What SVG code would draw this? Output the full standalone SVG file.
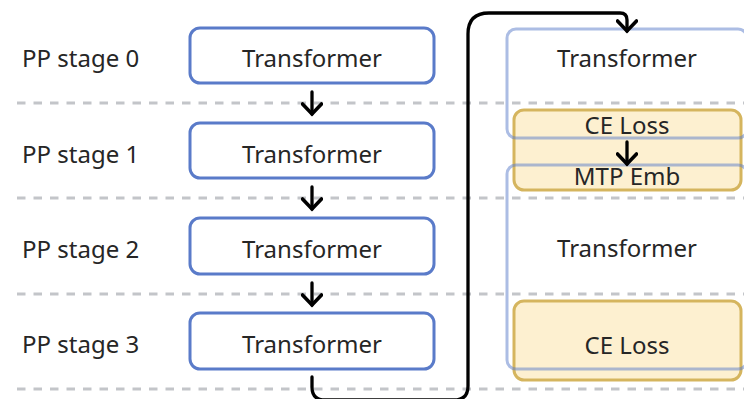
<svg xmlns="http://www.w3.org/2000/svg" width="744" height="399" viewBox="0 0 744 399">
<defs>
<style>
.lbl{font-family:"Noto Sans","DejaVu Sans",sans-serif;font-size:24px;fill:#262626}
.mid{text-anchor:middle}
.dash{stroke:#c3c5c9;stroke-width:3;stroke-dasharray:8.5 8;fill:none}
.tf{fill:#fff;stroke:#5a7bc9;stroke-width:3}
.ltf{fill:none;stroke:#5a7bc9;stroke-opacity:0.5;stroke-width:3}
.yel{fill:#fdf0d0;stroke:#d5b55e;stroke-width:3}
.con{fill:none;stroke:#000;stroke-width:3.3;stroke-linecap:round;stroke-linejoin:round}
</style>
<marker id="ah" viewBox="0 0 22 22" refX="17" refY="11" markerWidth="22" markerHeight="22" markerUnits="userSpaceOnUse" orient="auto">
<path d="M7,1.5 L17,11 L7,20.5" fill="none" stroke="#000" stroke-width="3.6" stroke-linecap="round" stroke-linejoin="miter"/>
</marker>
</defs>
<g id="grid">
<line class="dash" x1="17" y1="103" x2="744" y2="103"/>
<line class="dash" x1="17" y1="198" x2="744" y2="198"/>
<line class="dash" x1="17" y1="294" x2="744" y2="294"/>
<line class="dash" x1="17" y1="389" x2="744" y2="389"/>
</g>
<g id="stage-labels">
<text class="lbl" x="22" y="67">PP stage 0</text>
<text class="lbl" x="22" y="163">PP stage 1</text>
<text class="lbl" x="22" y="258">PP stage 2</text>
<text class="lbl" x="22" y="353">PP stage 3</text>
</g>
<g id="tf0"><rect class="tf" x="190" y="28" width="244" height="55" rx="10"/><text class="lbl mid" x="312" y="67">Transformer</text></g>
<g id="tf1"><rect class="tf" x="190" y="123" width="244" height="55" rx="10"/><text class="lbl mid" x="312" y="163">Transformer</text></g>
<g id="tf2"><rect class="tf" x="190" y="218" width="244" height="56" rx="10"/><text class="lbl mid" x="312" y="258">Transformer</text></g>
<g id="tf3"><rect class="tf" x="190" y="313" width="244" height="56" rx="10"/><text class="lbl mid" x="312" y="353">Transformer</text></g>
<g id="ce1"><rect class="yel" x="514" y="110" width="227" height="80" rx="10"/><text class="lbl mid" x="627" y="134">CE Loss</text></g>
<g id="mtp"><text class="lbl mid" x="627" y="185">MTP Emb</text></g>
<g id="ce2"><rect class="yel" x="514" y="301" width="227" height="79" rx="10"/><text class="lbl mid" x="627" y="354">CE Loss</text></g>
<g id="rtf0"><rect class="ltf" x="507" y="29" width="240" height="109" rx="9"/><text class="lbl mid" x="627" y="67">Transformer</text></g>
<g id="rtf1"><rect class="ltf" x="507" y="165" width="240" height="204" rx="9"/><text class="lbl mid" x="627" y="257">Transformer</text></g>
<g id="connectors">
<line class="con" x1="312" y1="92" x2="312" y2="114" marker-end="url(#ah)"/>
<line class="con" x1="312" y1="187" x2="312" y2="209" marker-end="url(#ah)"/>
<line class="con" x1="312" y1="283" x2="312" y2="305" marker-end="url(#ah)"/>
<line class="con" x1="627" y1="142" x2="627" y2="164" marker-end="url(#ah)"/>
<path class="con" d="M312,377 L312,387 Q312,400 325,400 L454,400 Q468,400 468,386 L468,34 Q468,13 489,13 L620,13 Q627,13 627,20 L627,31" marker-end="url(#ah)"/>
</g>
</svg>
